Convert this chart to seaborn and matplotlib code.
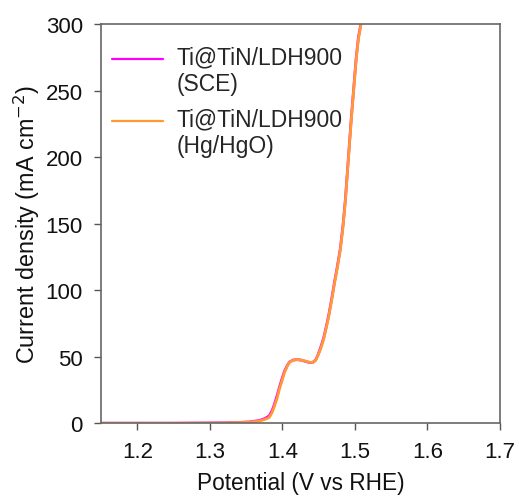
import matplotlib
matplotlib.use("Agg")
import matplotlib.pyplot as plt
import seaborn as sns
import pandas as pd
import numpy as np

# Data
potential = [1.15, 1.20, 1.25, 1.30, 1.32, 1.341, 1.355, 1.368, 1.376, 1.382, 1.386, 1.389,
             1.393, 1.396, 1.400, 1.403, 1.407, 1.410, 1.415, 1.421, 1.427, 1.433, 1.437,
             1.440, 1.443, 1.446, 1.449, 1.453, 1.457, 1.460, 1.464, 1.468, 1.472, 1.476,
             1.480, 1.484, 1.487, 1.491, 1.495, 1.499, 1.502, 1.505, 1.509]
current_sce = [0.0, 0.0, 0.0, 0.2, 0.3, 0.6, 1.0, 2.0, 3.5, 5.5, 9.5, 14.0,
               21.0, 27.0, 34.0, 39.0, 43.5, 46.0, 47.5, 47.8, 47.3, 46.3, 45.7,
               45.6, 46.0, 47.5, 51.0, 57.0, 64.0, 71.0, 81.0, 93.0, 106.0, 118.0,
               131.0, 150.0, 168.0, 198.0, 228.0, 255.0, 275.0, 290.0, 302.0]
current_hg = [0.0, 0.0, 0.0, 0.1, 0.2, 0.5, 0.8, 1.6, 2.8, 4.3, 8.0, 12.5,
              19.0, 25.6, 32.5, 38.0, 43.0, 45.8, 47.4, 47.8, 47.4, 46.5, 45.9,
              45.7, 46.0, 47.2, 50.6, 56.0, 63.0, 70.0, 80.0, 92.0, 105.0, 117.0,
              130.0, 149.0, 167.0, 197.0, 227.0, 254.0, 274.0, 289.0, 301.0]
labels = ["Ti@TiN/LDH900\n(SCE)", "Ti@TiN/LDH900\n(Hg/HgO)"]
colors = ["#FF00FF", "#FF9933"]
xticks = [1.2, 1.3, 1.4, 1.5, 1.6, 1.7]
yticks = [0, 50, 100, 150, 200, 250, 300]

df = pd.DataFrame({
    "Potential": potential * 2,
    "Current": current_sce + current_hg,
    "Series": [labels[0]] * len(potential) + [labels[1]] * len(potential),
})

sns.set_theme(style="ticks")
plt.rcParams["font.family"] = ["Liberation Sans", "DejaVu Sans"]

fig = plt.figure(figsize=(5.19, 5.02), dpi=100)
ax = fig.add_axes([0.1946, 0.155, 0.7684, 0.795])

sns.lineplot(data=df, x="Potential", y="Current", hue="Series",
             palette=dict(zip(labels, colors)), linewidth=2.0, ax=ax,
             sort=False, estimator=None)

ax.set_xlim(1.15, 1.7)
ax.set_ylim(0, 300)
ax.set_xticks(xticks)
ax.set_yticks(yticks)
ax.set_xticklabels([f"{t:.1f}" for t in xticks])
ax.set_yticklabels([str(t) for t in yticks])
ax.tick_params(axis="both", direction="out", length=5, width=1, colors="#555555",
               labelcolor="#111111", labelsize=16, pad=8)
for s in ax.spines.values():
    s.set_color("#666666")
    s.set_linewidth(1.2)
    s.set_visible(True)

ax.set_xlabel("Potential (V vs RHE)", fontsize=16.3, color="#111111", labelpad=6)
ax.set_ylabel("Current density (mA cm$^{-2}$)", fontsize=16.8, color="#111111", labelpad=3)

leg = ax.legend(loc="upper left", frameon=False, fontsize=16.5, handlelength=2.2,
                handletextpad=0.6, borderaxespad=0.1, labelspacing=0.55,
                bbox_to_anchor=(0.0, 0.975))
for line in leg.get_lines():
    line.set_linewidth(1.6)
    yd = np.asarray(line.get_ydata(), dtype=float)
    line.set_ydata(yd + 9.0)

fig.savefig("out.png", dpi=100)
